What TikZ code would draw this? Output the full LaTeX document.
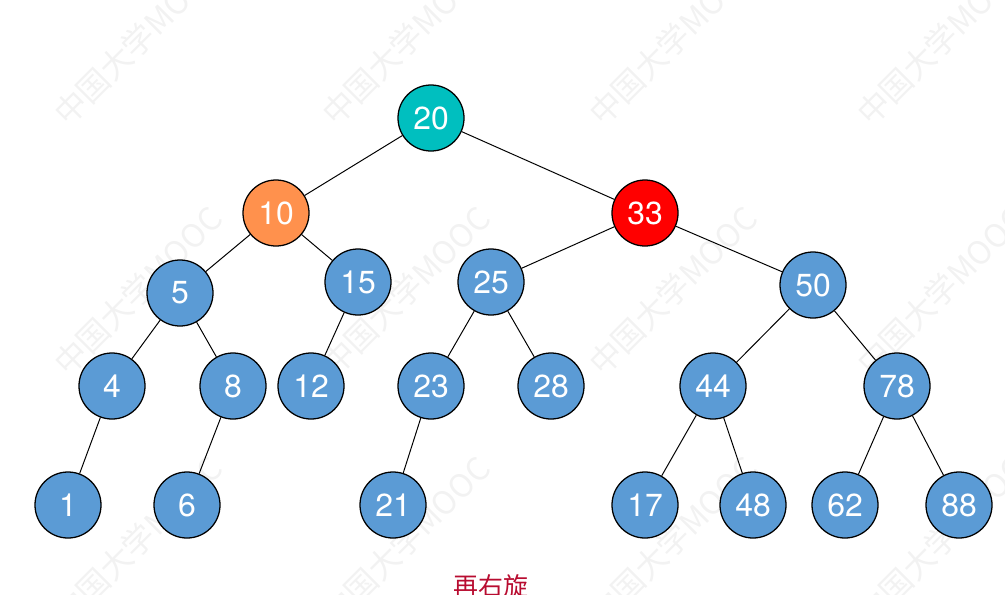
\documentclass[tikz,border=0pt]{standalone}
\usepackage{fontspec}
\setmainfont{TeX Gyre Heros}
\newfontfamily\cjk{Noto Sans CJK SC}
\definecolor{treeblue}{HTML}{5B9BD5}
\definecolor{rootteal}{HTML}{00BFBF}
\definecolor{pivotorange}{HTML}{FF914D}
\definecolor{hotred}{HTML}{FF0000}
\definecolor{notered}{HTML}{B80C30}
\tikzset{
  key/.style={circle, draw=black, line width=0.9pt, minimum size=1.65cm, inner sep=0pt,
    fill=treeblue, text=white, font=\fontsize{22.7}{26}\selectfont},
  link/.style={line width=0.7pt},
  mark text/.style={anchor=south west, inner sep=0pt, rotate=45, text=black!5,
    font=\cjk\fontsize{22.7}{26}\selectfont}
}

\begin{document}
\begin{tikzpicture}[x=0.025cm, y=-0.025cm]
\useasboundingbox (0,0) rectangle (1005,594);
\foreach \wx in {70,338,605,873}
  \foreach \wy in {130,380,630}
    \node[mark text] at (\wx,\wy) {中国大学MOOC};
\node[key, fill=rootteal] (n20) at (431,118) {20};
\node[key, fill=pivotorange] (n10) at (276,213) {10};
\node[key, fill=hotred] (n33) at (645,213) {33};
\node[key] (n5) at (180,293) {5};
\node[key] (n15) at (358,282) {15};
\node[key] (n25) at (491,282) {25};
\node[key] (n50) at (813,285) {50};
\node[key] (n4) at (112,386) {4};
\node[key] (n8) at (233,386) {8};
\node[key] (n12) at (311,386) {12};
\node[key] (n23) at (431,386) {23};
\node[key] (n28) at (551,386) {28};
\node[key] (n44) at (713,386) {44};
\node[key] (n78) at (897,386) {78};
\node[key] (n1) at (68,505) {1};
\node[key] (n6) at (187,505) {6};
\node[key] (n21) at (393,505) {21};
\node[key] (n17) at (645,505) {17};
\node[key] (n48) at (753,505) {48};
\node[key] (n62) at (845,505) {62};
\node[key] (n88) at (959,505) {88};
\foreach \a/\b in {20/10,20/33,10/5,10/15,5/4,5/8,15/12,4/1,8/6,33/25,33/50,25/23,25/28,23/21,50/44,50/78,44/17,44/48,78/62,78/88}
  \draw[link] (n\a) -- (n\b);
\node[anchor=base, inner sep=0pt, text=notered, font=\cjk\fontsize{17.7}{20}\selectfont] (caption) at (491,595) {再右旋};
\end{tikzpicture}
\end{document}
